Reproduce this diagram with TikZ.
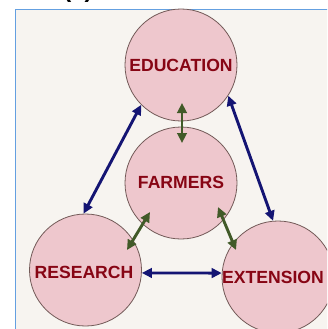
\documentclass[tikz,border=0pt]{standalone}
\usepackage{fontspec}
\setmainfont{Liberation Sans}
\usetikzlibrary{arrows.meta}
\definecolor{paper}{RGB}{247,244,240}
\definecolor{frameblue}{RGB}{100,160,225}
\definecolor{bubblepink}{RGB}{238,199,205}
\definecolor{rim}{RGB}{115,90,88}
\definecolor{labelred}{RGB}{135,5,20}
\definecolor{navylink}{RGB}{20,20,115}
\definecolor{olivelink}{RGB}{65,90,40}
\begin{document}
\begin{tikzpicture}[x=1pt,y=-1pt,
  bubble/.style={circle, draw=rim, line width=0.8pt, fill=bubblepink,
    minimum size=112pt, inner sep=0pt},
  tag/.style={font=\bfseries\fontsize{17.6}{18}\selectfont, text=labelred, inner sep=0pt},
  link/.style={line width=2.9pt,
    {Triangle[length=10pt,width=9.5pt]}-{Triangle[length=10pt,width=9.5pt]}},
  bluelink/.style={link, draw=navylink},
  greenlink/.style={link, draw=olivelink},
]
\useasboundingbox (0,0) rectangle (327,329);
\clip (0,0) rectangle (327,329);

% panel background and its frame
\fill[paper] (15.5,9.5) rectangle (340,340);
\draw[frameblue, line width=1.8pt] (15.5,340) -- (15.5,9.5) -- (340,9.5);
\node[anchor=base, font=\bfseries\fontsize{24}{24}\selectfont] (panel) at (78,-2.5) {(c)};

% the four circles
\node[bubble] (edu)  at (181,65)  {};
\node[bubble] (farm) at (181,183) {};
\node[bubble] (res)  at (85.5,270) {};
\node[bubble] (ext)  at (278,277) {};

% labels
\node[tag] (edulab)  at (181,65)  {EDUCATION};
\node[tag] (farmlab) at (181,182) {FARMERS};
\node[tag] (reslab)  at (84,272)  {RESEARCH};
\node[tag] (extlab)  at (273,277) {EXTENSION};

% ends of the inner links
\coordinate (ef1) at (182,103);
\coordinate (ef2) at (182,143);
\coordinate (fr1) at (150,212);
\coordinate (fr2) at (127,250);
\coordinate (fx1) at (218,207);
\coordinate (fx2) at (236,250);

% outer triangle of links
\draw[bluelink] (edu.225) -- (res.92);
\draw[bluelink] (edu.-33) -- (ext.95);
\draw[bluelink] (res.-3) -- (ext.176);

% links through the farmers
\draw[greenlink] (ef1) -- (ef2);
\draw[greenlink] (fr1) -- (fr2);
\draw[greenlink] (fx1) -- (fx2);
\end{tikzpicture}
\end{document}
